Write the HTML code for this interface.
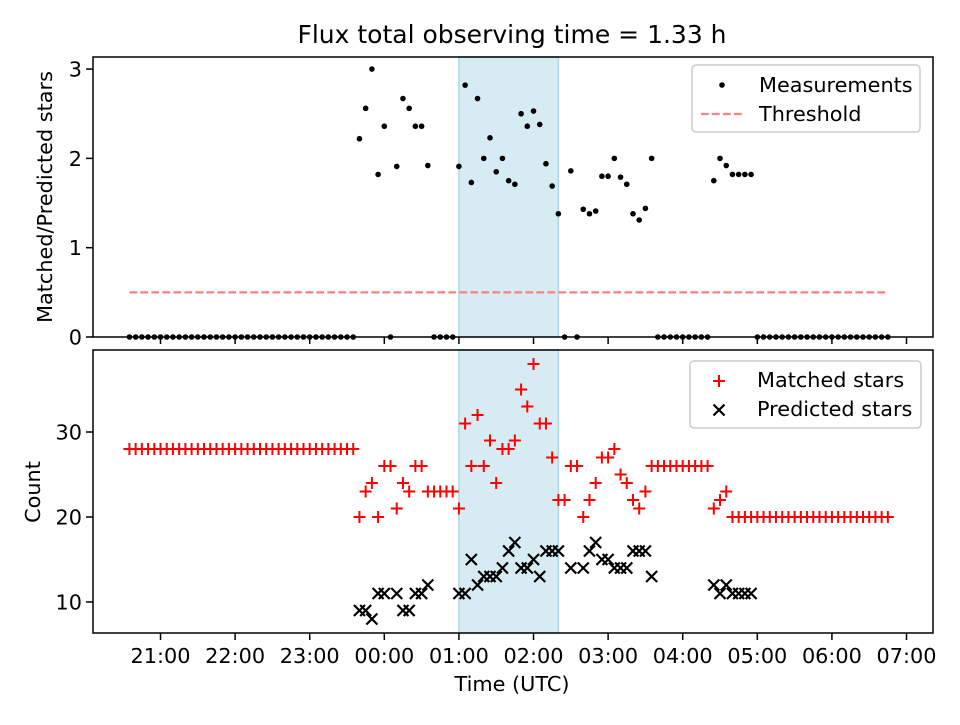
<!DOCTYPE html>
<html><head><meta charset="utf-8"><style>
body{margin:0;background:#fff;font-family:"Liberation Sans","DejaVu Sans",sans-serif}
svg text{font-family:"DejaVu Sans","Liberation Sans",sans-serif;fill:#000}
</style></head><body>
<svg id="chart" width="960" height="720" viewBox="0 0 960 720" xmlns="http://www.w3.org/2000/svg"></svg>
<script>
// minutes relative to 00:00 UTC
const times=[-205,-200,-195,-190,-185,-180,-175,-170,-165,-160,-155,-150,-145,-140,-135,-130,-125,-120,-115,-110,-105,-100,-95,-90,-85,-80,-75,-70,-65,-60,-55,-50,-45,-40,-35,-30,-25,
-20,-15,-10,-5,0,5,10,15,20,25,30,35,40,45,50,55,60,65,70,75,80,85,90,95,100,105,110,115,120,125,130,135,140,145,150,155,160,165,170,175,180,185,190,195,200,205,210,215,
220,225,230,235,240,245,250,255,260,265,270,275,280,285,290,295,300,305,310,315,320,325,330,335,340,345,350,355,360,365,370,375,380,385,390,395,400,405];
const matched=[28,28,28,28,28,28,28,28,28,28,28,28,28,28,28,28,28,28,28,28,28,28,28,28,28,28,28,28,28,28,28,28,28,28,28,28,28,
20,23,24,20,26,26,21,24,23,26,26,23,23,23,23,23,21,31,26,32,26,29,24,28,28,29,35,33,38,31,31,27,22,22,26,26,20,22,24,27,27,28,25,24,22,21,23,26,
26,26,26,26,26,26,26,26,26,21,22,23,20,20,20,20,20,20,20,20,20,20,20,20,20,20,20,20,20,20,20,20,20,20,20,20,20,20];
const predicted=[null,null,null,null,null,null,null,null,null,null,null,null,null,null,null,null,null,null,null,null,null,null,null,null,null,null,null,null,null,null,null,null,null,null,null,null,null,
9,9,8,11,11,null,11,9,9,11,11,12,null,null,null,null,11,11,15,12,13,13,13,14,16,17,14,14,15,13,16,16,16,null,14,null,14,16,17,15,15,14,14,14,16,16,16,13,
null,null,null,null,null,null,null,null,null,12,11,12,11,11,11,11,null,null,null,null,null,null,null,null,null,null,null,null,null,null,null,null,null,null,null,null,null,null];
const ratio=[0,0,0,0,0,0,0,0,0,0,0,0,0,0,0,0,0,0,0,0,0,0,0,0,0,0,0,0,0,0,0,0,0,0,0,0,0,
2.22,2.56,3.0,1.82,2.36,0,1.91,2.67,2.56,2.36,2.36,1.92,0,0,0,0,1.91,2.82,1.73,2.67,2.0,2.23,1.85,2.0,1.75,1.71,2.5,2.36,2.53,2.38,1.94,1.69,1.38,0,1.86,0,1.43,1.38,1.41,1.8,1.8,2.0,1.79,1.71,1.38,1.31,1.44,2.0,
0,0,0,0,0,0,0,0,0,1.75,2.0,1.92,1.82,1.82,1.82,1.82,0,0,0,0,0,0,0,0,0,0,0,0,0,0,0,0,0,0,0,0,0,0];
const threshold=0.5;
const spanStart=60, spanEnd=140;
const xTicks=[-180,-120,-60,0,60,120,180,240,300,360,420];
const xTickLabels=["21:00","22:00","23:00","00:00","01:00","02:00","03:00","04:00","05:00","06:00","07:00"];
const topTicks=[0,1,2,3];
const botTicks=[10,20,30];

const NS="http://www.w3.org/2000/svg";
const svg=document.getElementById('chart');
function el(tag,attrs,parent){const e=document.createElementNS(NS,tag);for(const k in attrs)e.setAttribute(k,attrs[k]);(parent||svg).appendChild(e);return e;}
const L=93,R=933;
const xMin=-234.3,xMax=441.3;
const X=t=>L+(t-xMin)/(xMax-xMin)*(R-L);
const T={top:57,bot:337,min:0,max:3.135};
const B={top:350,bot:633,min:6.35,max:39.65};
const Y=(p,v)=>p.bot-(v-p.min)/(p.max-p.min)*(p.bot-p.top);
const FS=20.8;

let t=el('text',{x:512,y:43,'font-size':25,'text-anchor':'middle'});

t.textContent='Flux total observing time = 1.33 h';

function panel(p,name){
  const sp=el('rect',{x:X(spanStart),y:p.top,width:X(spanEnd)-X(spanStart),height:p.bot-p.top,fill:'#add8e6','fill-opacity':0.5,stroke:'#add8e6','stroke-width':1.5});
  
}
panel(T,'top');panel(B,'bottom');

const th=el('line',{x1:X(times[0]),x2:X(times[times.length-1]),y1:Y(T,threshold),y2:Y(T,threshold),stroke:'#ff7f7f','stroke-width':2.2,'stroke-dasharray':'7.7,3.3'});


const gm=el('g',{});

ratio.forEach((v,i)=>{const c=el('circle',{cx:X(times[i]),cy:Y(T,v),r:2.8,fill:'#000'},gm);
});

const gr=el('g',{stroke:'#ff0000','stroke-width':2});

matched.forEach((v,i)=>{if(v==null)return;const x=X(times[i]),y=Y(B,v);
const p=el('path',{d:`M${x-6} ${y}H${x+6}M${x} ${y-6}V${y+6}`},gr);
});

const gp=el('g',{stroke:'#000','stroke-width':2.2});

predicted.forEach((v,i)=>{if(v==null)return;const x=X(times[i]),y=Y(B,v);
const p=el('path',{d:`M${x-5.5} ${y-5.5}L${x+5.5} ${y+5.5}M${x-5.5} ${y+5.5}L${x+5.5} ${y-5.5}`},gp);
});

[[T,'top'],[B,'bottom']].forEach(([p,n])=>{
  const f=el('rect',{x:L,y:p.top,width:R-L,height:p.bot-p.top,fill:'none',stroke:'#000','stroke-width':1.5});
  
  xTicks.forEach((v,i)=>{const x=X(v);el('line',{x1:x,x2:x,y1:p.bot,y2:p.bot+7,stroke:'#000','stroke-width':1.5});
    if(n==='bottom'){const tx=el('text',{x:x,y:p.bot+30,'font-size':FS,'text-anchor':'middle'});
      tx.textContent=xTickLabels[i];}});
  (n==='top'?topTicks:botTicks).forEach(v=>{const y=Y(p,v);el('line',{x1:L-7,x2:L,y1:y,y2:y,stroke:'#000','stroke-width':1.5});
    const tx=el('text',{x:L-11,y:y+7.5,'font-size':FS,'text-anchor':'end'});
    tx.textContent=v;});
});

t=el('text',{x:512,y:691,'font-size':FS,'text-anchor':'middle'});
t.textContent='Time (UTC)';
t=el('text',{x:0,y:0,'font-size':FS,'text-anchor':'middle',transform:'translate(52,197) rotate(-90)'});
t.textContent='Matched/Predicted stars';
t=el('text',{x:0,y:0,'font-size':FS,'text-anchor':'middle',transform:'translate(40,492) rotate(-90)'});
t.textContent='Count';

let lg=el('g',{});
el('rect',{x:692,y:65,width:228,height:67,rx:4,fill:'#fff','fill-opacity':0.8,stroke:'#ccc','stroke-width':1.5},lg);
el('circle',{cx:722,cy:85,r:2.8,fill:'#000'},lg);
t=el('text',{x:759,y:92,'font-size':FS},lg);t.textContent='Measurements';
el('line',{x1:701,x2:743,y1:114,y2:114,stroke:'#ff7f7f','stroke-width':2.2,'stroke-dasharray':'7.7,3.3'},lg);
t=el('text',{x:759,y:121,'font-size':FS},lg);t.textContent='Threshold';

lg=el('g',{});
el('rect',{x:690,y:361,width:231,height:67,rx:4,fill:'#fff','fill-opacity':0.8,stroke:'#ccc','stroke-width':1.5},lg);
el('path',{d:'M713 381H725M719 375V387',stroke:'#ff0000','stroke-width':2},lg);
t=el('text',{x:757,y:387,'font-size':FS},lg);t.textContent='Matched stars';
el('path',{d:'M713.5 404.5L724.5 415.5M713.5 415.5L724.5 404.5',stroke:'#000','stroke-width':2.2},lg);
t=el('text',{x:757,y:416,'font-size':FS},lg);t.textContent='Predicted stars';
</script>
</body></html>
